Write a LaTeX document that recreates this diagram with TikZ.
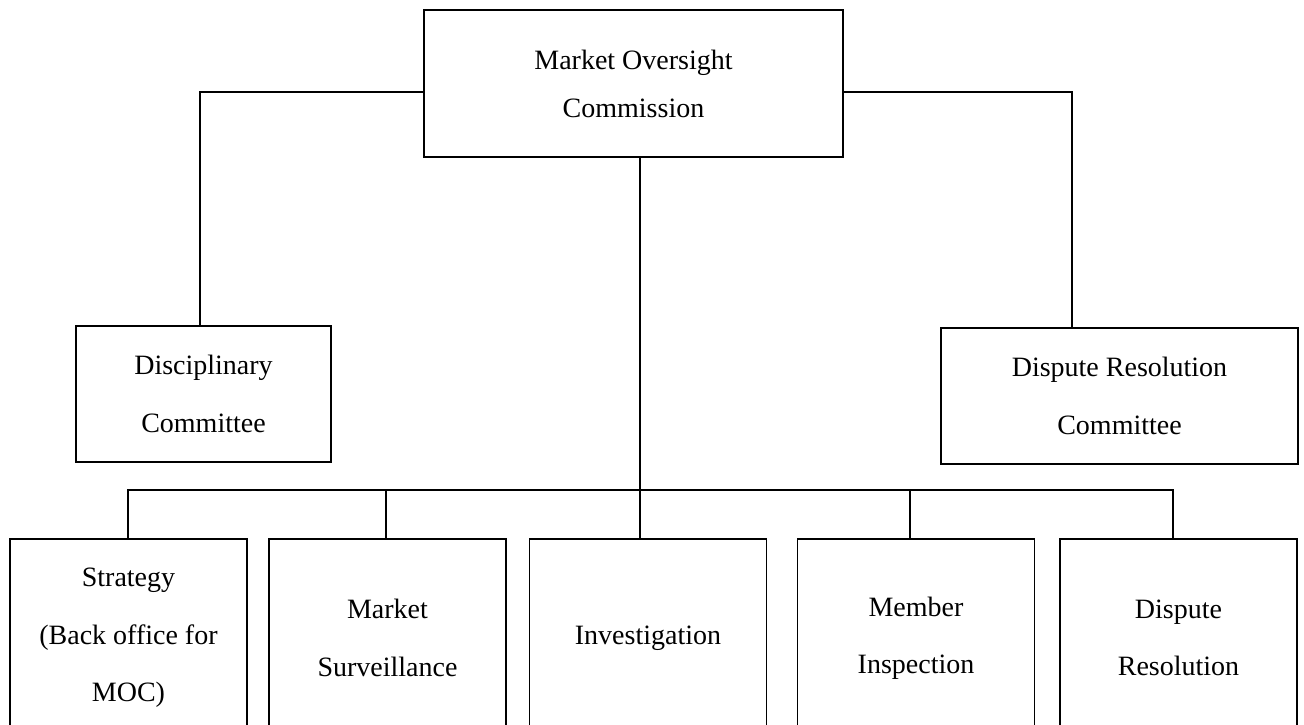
\documentclass[tikz,border=0pt]{standalone}
\usepackage{fontspec}
\setmainfont{Liberation Serif}
\begin{document}
\begin{tikzpicture}[x=0.75pt,y=-0.75pt,
  orgbox/.style={draw, line width=1.3pt, inner sep=0pt, align=center,
    font=\fontsize{21}{43}\selectfont},
  topbox/.style={orgbox, font=\fontsize{21}{36}\selectfont},
  unitbox/.style={orgbox, minimum width=177.75pt, minimum height=148.5pt},
  link/.style={line width=1.3pt}]
\useasboundingbox (0,0) rectangle (1304,725);
\fill[white] (0,0) rectangle (1304,725);
\clip (0,0) rectangle (1304,725);

% head of the structure
\node[topbox, minimum width=314.25pt, minimum height=110.25pt] (moc) at (633.5,83.5)
  {Market Oversight\\Commission};

% committees
\node[orgbox, minimum width=191.25pt, minimum height=102pt] (disc) at (203.5,394)
  {Disciplinary\\Committee};
\node[orgbox, minimum width=267.75pt, minimum height=102pt] (drc) at (1119.5,396)
  {Dispute Resolution\\Committee};

% departments
\node[unitbox] (strat) at (128.5,638) {Strategy\\(Back office for\\MOC)};
\node[unitbox] (surv)  at (387.5,638) {Market\\Surveillance};
\node[unitbox] (inv)   at (648,638)   {Investigation};
\node[unitbox] (memb)  at (916,638)   {Member\\Inspection};
\node[unitbox] (disp)  at (1178.5,638) {Dispute\\Resolution};

% branch points
\coordinate (lj) at (200,92);
\coordinate (rj) at (1072,92);
\coordinate (cx) at (640,490);
\coordinate (b1) at (128,490);
\coordinate (b2) at (386,490);
\coordinate (b4) at (910,490);
\coordinate (b5) at (1173,490);

% connectors to the committees
\draw[link] (moc.west |- lj) -- (lj) -- (lj |- disc.north);
\draw[link] (moc.east |- rj) -- (rj) -- (rj |- drc.north);

% trunk and bus to the departments
\draw[link] (moc.south -| cx) -- (cx |- inv.north);
\draw[link] (b1 |- strat.north) -- (b1) -- (b5) -- (b5 |- disp.north);
\draw[link] (b2) -- (b2 |- surv.north);
\draw[link] (b4) -- (b4 |- memb.north);
\end{tikzpicture}
\end{document}
